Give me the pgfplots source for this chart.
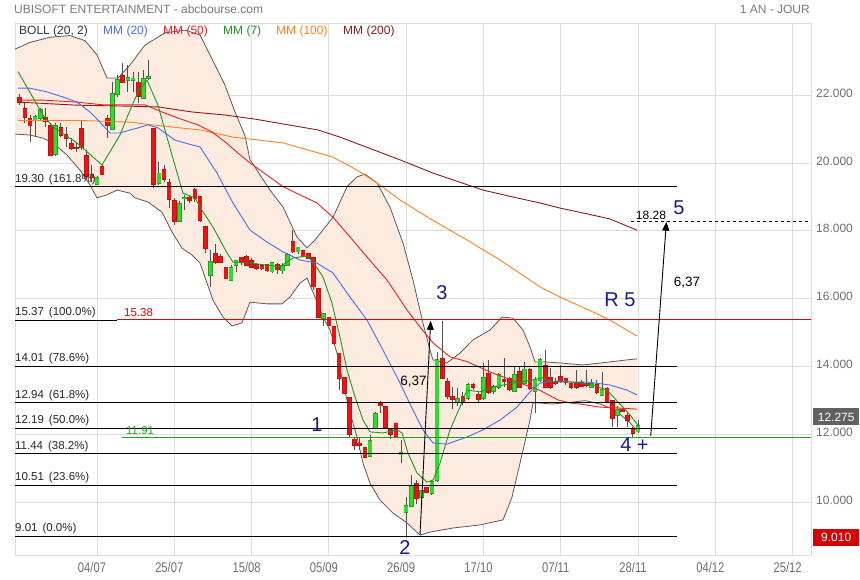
\documentclass[border=0pt]{standalone}
\usepackage{fontspec}
\setmainfont{Liberation Sans}
\newfontfamily\narrowfont[FakeStretch=0.8]{Liberation Sans}
\usepackage{pgfplots}
\usepackage{pgfplotstable}
\usepgfplotslibrary{fillbetween}
\usetikzlibrary{arrows.meta}
\pgfplotsset{compat=1.18}

\newcommand\fs[1]{\fontsize{#1}{#1}\selectfont}

\definecolor{gridc}{HTML}{DCDCDC}
\definecolor{tickc}{HTML}{6E6E6E}
\definecolor{titlec}{HTML}{7A7A7A}
\definecolor{bollfill}{HTML}{FDEBDF}
\definecolor{bandc}{HTML}{5A5A5A}
\definecolor{mmA}{HTML}{4A6CF7}
\definecolor{mmB}{HTML}{F02020}
\definecolor{mmC}{HTML}{1E961E}
\definecolor{mmD}{HTML}{FF8020}
\definecolor{mmE}{HTML}{8B1A1A}
\definecolor{upfill}{HTML}{2BE02B}
\definecolor{upline}{HTML}{2A9A2A}
\definecolor{dnfill}{HTML}{F01212}
\definecolor{dnline}{HTML}{B81515}
\definecolor{wickc}{HTML}{505050}
\definecolor{navy}{HTML}{1A1A8C}
\definecolor{lvred}{HTML}{E00000}
\definecolor{lvgreen}{HTML}{22A01A}

\pgfplotsset{
  candle/.style n args={2}{only marks, mark=*, mark size=0pt, mark options={draw=none, fill=none}, forget plot,
    error bars/.cd, y dir=both, y explicit, error mark=none,
    error bar style={draw=#1, line width=#2}},
}

% candles: d = trading day (0 = 04/07)
\pgfplotstableread{
d o h l c
-12 21.26 21.41 20.77 21.36
-11 21.33 21.61 21.26 21.56
-8 20.25 21.17 20.19 21.09
0 19.37 19.60 19.35 19.55
3 21.00 22.39 20.97 22.02
4 22.02 22.59 21.95 22.44
6 22.43 22.88 22.10 22.50
7 22.43 22.69 22.10 22.49
9 21.92 22.74 21.90 22.47
10 22.51 23.03 22.44 22.53
12 19.40 20.04 19.35 19.69
16 18.29 18.88 18.25 18.78
17 18.95 19.06 18.61 18.97
22 16.70 17.43 16.36 17.09
26 16.55 17.00 16.52 16.90
27 17.00 17.14 16.80 17.12
34 16.80 17.09 16.75 17.06
36 16.83 17.04 16.73 16.96
37 16.99 17.34 16.97 17.29
39 17.39 17.53 17.32 17.51
44 15.42 15.57 15.20 15.55
53 11.37 11.99 11.33 11.82
54 12.18 12.68 12.16 12.60
59 11.43 11.84 11.15 11.45
60 9.73 10.17 9.01 9.90
61 9.90 10.81 9.88 10.49
63 10.15 10.35 9.98 10.35
65 10.29 10.66 10.22 10.61
66 10.66 14.44 10.61 14.20
70 12.97 13.36 12.84 13.05
72 13.07 13.51 13.02 13.46
75 13.07 14.10 13.02 13.66
77 13.29 13.46 13.21 13.41
78 13.39 13.80 13.33 13.76
81 13.29 14.00 13.26 13.76
83 13.51 14.15 13.46 13.92
85 13.29 13.71 12.63 13.61
86 13.61 14.25 13.56 14.20
96 13.41 13.63 13.36 13.49
98 13.17 13.85 13.14 13.31
101 12.58 12.84 12.21 12.72
105 12.09 12.43 12.04 12.26
}\upc

\pgfplotstableread{
d o h l c
-15 21.92 22.02 21.71 21.78
-14 21.59 21.80 21.17 21.36
-13 21.31 21.41 20.61 21.10
-10 21.33 21.61 21.07 21.22
-9 21.09 21.17 20.19 20.24
-7 21.04 21.17 20.77 20.82
-6 20.82 21.07 20.48 20.74
-5 20.56 20.72 20.38 20.43
-4 20.44 20.63 20.33 20.42
-3 21.00 21.26 20.38 20.45
-2 20.20 20.38 19.55 19.60
-1 19.65 19.94 19.45 19.57
1 19.88 19.94 19.64 19.66
2 21.31 21.41 20.72 21.12
5 22.57 22.93 22.34 22.39
8 22.37 22.69 21.76 21.98
11 21.00 21.00 19.25 19.37
13 19.79 19.94 19.45 19.53
14 19.40 19.53 18.66 18.94
15 18.88 18.96 18.17 18.29
18 18.96 19.06 18.81 18.89
19 19.22 19.27 18.86 18.96
20 19.01 19.03 18.27 18.32
21 18.12 18.13 17.34 17.48
23 17.32 17.60 17.02 17.09
24 17.24 17.31 17.04 17.09
25 16.90 16.90 16.58 16.60
28 17.19 17.22 17.00 17.09
29 17.24 17.29 16.97 16.99
30 17.12 17.20 16.90 16.94
31 16.99 17.04 16.85 16.90
32 16.96 17.00 16.85 16.89
33 16.99 17.02 16.80 16.84
35 16.99 17.06 16.73 16.86
38 17.68 18.02 17.34 17.39
40 17.42 17.44 17.24 17.24
41 17.32 17.34 17.16 17.19
42 17.19 17.22 16.26 16.36
43 16.28 16.31 15.42 15.47
45 15.45 15.47 15.20 15.23
46 15.16 15.18 14.64 14.69
47 14.39 14.41 13.31 13.66
48 13.66 13.71 13.22 13.22
49 13.07 13.12 11.89 12.02
50 11.86 11.89 11.55 11.69
51 11.74 11.94 11.55 11.69
52 11.60 11.64 11.30 11.35
55 12.90 13.00 12.63 12.86
56 12.82 12.84 12.18 12.21
57 12.14 12.18 11.86 12.01
58 12.33 12.35 11.89 11.94
62 10.56 10.66 9.96 10.12
64 10.42 10.44 10.29 10.32
67 14.22 15.35 13.63 13.66
68 13.56 13.66 13.04 13.12
69 13.12 13.41 12.74 13.04
71 13.12 13.26 12.87 12.97
73 13.46 13.51 13.31 13.39
74 13.17 13.26 12.97 13.04
76 13.78 14.19 13.21 13.26
79 13.60 14.25 13.41 13.56
80 13.63 13.71 13.29 13.33
82 13.85 14.00 13.36 13.39
84 13.90 13.95 13.31 13.36
87 14.02 14.49 13.36 13.41
88 13.66 13.95 13.33 13.39
89 13.56 13.66 13.46 13.52
90 13.71 14.05 13.51 13.56
91 13.63 13.68 13.45 13.53
92 13.49 13.56 13.33 13.39
93 13.51 13.90 13.35 13.39
94 13.51 13.60 13.40 13.43
95 13.49 13.90 13.41 13.47
97 13.46 13.61 13.21 13.26
99 13.36 13.41 12.92 12.97
100 13.00 13.02 12.23 12.48
102 12.74 12.77 12.67 12.70
103 12.55 12.63 12.21 12.43
104 12.18 12.23 11.92 12.04
}\dnc

% Bollinger (20,2)
\pgfplotstableread{
d v
-15.91 23.35
-13.00 23.55
-9.12 23.70
-5.24 23.75
-2.33 23.60
0.00 23.18
1.94 22.50
4.08 22.50
6.40 22.88
9.32 23.47
13.20 23.83
17.08 23.91
19.99 23.77
21.93 23.18
24.84 22.29
26.78 21.50
28.72 20.80
29.69 20.10
33.57 19.20
36.10 18.70
38.81 17.82
40.75 17.50
42.31 17.73
45.80 18.40
48.52 19.30
50.46 19.59
52.01 19.67
54.34 19.41
56.86 18.70
59.38 17.64
61.32 16.55
63.26 15.29
64.62 14.49
65.21 14.20
67.92 14.11
70.44 14.40
72.97 14.79
76.27 15.08
78.60 15.46
80.73 15.43
82.67 15.08
84.03 14.58
85.00 14.14
86.94 14.14
89.85 14.11
94.31 14.05
99.55 14.14
102.85 14.20
104.79 14.23
}\bup

\pgfplotstableread{
d v
-15.91 20.85
-13.00 20.82
-10.48 20.73
-8.54 20.59
-5.82 20.23
-3.30 19.79
-1.36 19.35
0.00 18.97
1.94 19.06
3.88 19.20
6.40 19.11
7.37 18.97
9.90 18.85
12.61 18.55
14.55 17.97
16.50 17.49
18.44 17.29
19.99 17.05
22.51 15.96
24.45 15.46
26.20 15.20
28.14 15.29
29.69 15.90
32.99 15.85
35.90 15.85
37.45 16.05
39.39 16.46
40.75 16.61
42.31 16.05
43.86 15.46
45.22 15.08
46.57 14.40
47.74 13.52
49.10 12.64
50.46 11.93
51.62 11.16
52.98 10.57
54.92 10.07
57.44 9.69
60.16 9.40
62.68 9.04
64.62 9.13
69.09 9.25
74.33 9.34
78.79 9.49
80.54 10.16
82.09 11.16
84.03 12.43
84.61 12.93
85.97 12.93
88.30 12.90
91.79 12.95
94.70 13.00
97.61 12.90
99.55 12.78
101.49 12.60
103.44 12.35
104.79 12.11
}\blo

% MM (7)
\pgfplotstableread{
d v
-15.33 22.69
-10.48 21.41
-8.54 21.06
-3.88 20.59
0.97 19.94
4.46 20.82
6.02 21.41
7.96 22.09
9.70 22.44
11.84 21.70
14.55 20.23
16.69 19.11
19.02 18.97
19.99 18.70
22.51 18.11
25.23 17.35
26.39 17.08
29.69 17.05
32.99 16.99
35.51 16.94
38.04 17.20
40.75 17.26
41.92 17.08
43.86 16.64
45.60 15.87
47.16 14.87
48.52 13.90
50.07 13.11
51.62 12.43
52.98 12.08
55.50 12.05
58.22 12.14
59.19 12.05
60.35 11.46
62.10 10.87
64.04 10.60
65.21 10.66
66.56 11.16
68.50 12.14
70.44 12.81
71.80 13.31
74.33 13.26
76.85 13.40
80.73 13.52
84.61 13.61
86.36 13.67
88.30 13.55
91.79 13.55
93.73 13.52
96.25 13.46
98.97 13.31
101.11 12.96
103.44 12.58
104.99 12.28
}\mmseven

% MM (20)
\pgfplotstableread{
d v
-15.33 22.20
-13.00 22.20
-9.70 22.09
-6.60 21.94
-3.88 21.79
-1.36 21.50
0.58 21.20
2.52 20.88
4.46 20.88
6.40 20.97
7.96 21.03
9.90 21.12
11.84 21.03
15.14 20.67
18.44 20.53
19.99 20.47
23.29 19.70
26.39 18.82
29.69 18.02
32.99 17.67
36.10 17.38
39.39 17.14
42.69 17.05
45.80 16.76
49.10 16.05
52.40 15.37
55.50 14.49
58.80 13.52
61.32 12.72
63.26 12.14
65.21 11.75
67.92 11.72
71.80 11.93
74.91 12.14
78.21 12.43
81.51 12.81
84.03 13.26
85.97 13.52
87.33 13.55
89.46 13.58
91.79 13.55
95.09 13.55
99.55 13.46
102.85 13.31
104.79 13.17
}\mmtwenty

% MM (50)
\pgfplotstableread{
d v
-15.33 21.85
-10.48 21.85
-3.88 21.79
1.16 21.71
9.32 21.71
12.61 21.50
15.72 21.32
19.60 21.12
22.32 20.91
24.84 20.62
27.36 20.29
29.69 20.00
36.10 19.30
42.69 18.82
45.80 18.40
49.10 17.82
52.40 17.23
56.28 16.55
60.16 15.67
62.68 15.17
65.21 14.70
68.50 14.29
71.80 14.15
76.85 13.81
82.09 13.52
85.97 13.30
89.46 13.02
91.79 12.93
93.73 12.90
97.61 12.81
101.49 12.78
104.79 12.75
}\mmfifty

% MM (100)
\pgfplotstableread{
d v
-15.33 21.25
-3.30 21.25
6.40 21.20
10.67 21.12
19.99 20.97
26.39 20.76
36.10 20.59
45.80 20.17
50.46 19.79
54.34 19.41
58.80 18.91
64.04 18.41
71.80 17.73
78.21 17.14
85.97 16.35
89.85 16.05
96.25 15.61
99.55 15.37
104.79 14.90
}\mmhundred

% MM (200)
\pgfplotstableread{
d v
-15.33 21.79
-3.88 21.70
6.40 21.67
11.84 21.65
18.44 21.50
24.84 21.41
30.66 21.29
42.89 20.97
47.16 20.76
58.80 20.09
65.21 19.70
74.91 19.20
81.51 18.97
85.97 18.82
89.85 18.67
95.09 18.50
99.55 18.35
104.79 18.02
}\mmtwohundred

% marked levels 15.38 and 11.91
\pgfplotstableread{
d v
3.88 15.38
138.56 15.38
}\lvlred
\pgfplotstableread{
d v
4.85 11.91
138.56 11.91
}\lvlgreen

\begin{document}
\begin{tikzpicture}
\path (0pt,0pt) rectangle (860pt,580pt);
\begin{axis}[
    set layers,
    at={(15pt,25pt)}, anchor=south west,
    scale only axis, width=796pt, height=532pt,
    xmin=-15.91, xmax=138.56, ymin=8.455, ymax=24.12,
    axis line style={draw=gridc, line width=0.8pt},
    grid=major, grid style={draw=gridc, line width=0.8pt},
    tick style={draw=none},
    xtick={0,15,...,135},
    xticklabels={04/07,25/07,15/08,05/09,26/09,17/10,07/11,28/11,04/12,25/12},
    xticklabel style={font=\narrowfont\fs{14}, text=tickc, anchor=center, inner sep=0pt, yshift=-13pt, xshift=-5pt},
    ytick={10,12,...,22},
    yticklabels={10.000,12.000,14.000,16.000,18.000,20.000,22.000},
    yticklabel pos=right,
    yticklabel style={font=\fs{12}, text=tickc, anchor=west, inner sep=0pt, xshift=5pt, yshift=2pt},
    every axis plot/.append style={line join=round},
  ]

  % Bollinger fill
  \addplot[draw=none, name path=bu, forget plot] table[x=d, y=v] {\bup};
  \addplot[draw=none, name path=bl, forget plot] table[x=d, y=v] {\blo};
  \addplot[fill=bollfill, draw=none, on layer=axis background] fill between[of=bu and bl];
  \addplot[bandc, line width=0.8pt] table[x=d, y=v] {\bup};
  \addplot[bandc, line width=0.8pt] table[x=d, y=v] {\blo};

  % wicks
  \addplot[candle={wickc}{0.9pt}]
    table[x=d, y expr={(\thisrow{h}+\thisrow{l})/2}, y error expr={(\thisrow{h}-\thisrow{l})/2}] {\upc};
  \addplot[candle={wickc}{0.9pt}]
    table[x=d, y expr={(\thisrow{h}+\thisrow{l})/2}, y error expr={(\thisrow{h}-\thisrow{l})/2}] {\dnc};

  % bodies: outline then fill
  \addplot[candle={upline}{4.6pt}]
    table[x=d, y expr={(\thisrow{o}+\thisrow{c})/2}, y error expr={abs(\thisrow{c}-\thisrow{o})/2+0.025}] {\upc};
  \addplot[candle={upfill}{3.4pt}]
    table[x=d, y expr={(\thisrow{o}+\thisrow{c})/2}, y error expr={abs(\thisrow{c}-\thisrow{o})/2}] {\upc};
  \addplot[candle={dnline}{4.6pt}]
    table[x=d, y expr={(\thisrow{o}+\thisrow{c})/2}, y error expr={abs(\thisrow{c}-\thisrow{o})/2+0.025}] {\dnc};
  \addplot[candle={dnfill}{3.4pt}]
    table[x=d, y expr={(\thisrow{o}+\thisrow{c})/2}, y error expr={abs(\thisrow{c}-\thisrow{o})/2}] {\dnc};

  % moving averages
  \addplot[mmE, line width=0.9pt] table[x=d, y=v] {\mmtwohundred};
  \addplot[mmD, line width=0.9pt] table[x=d, y=v] {\mmhundred};
  \addplot[mmB, line width=0.9pt] table[x=d, y=v] {\mmfifty};
  \addplot[mmA, line width=0.9pt] table[x=d, y=v] {\mmtwenty};
  \addplot[mmC, line width=0.9pt] table[x=d, y=v] {\mmseven};

  % Fibonacci levels
  \addplot[black, line width=0.9pt] coordinates {(-15.91,19.30) (112.56,19.30)};
  \addplot[black, line width=0.9pt] coordinates {(-15.91,15.37) (3.88,15.37)};
  \addplot[black, line width=0.9pt] coordinates {(-15.91,14.01) (112.56,14.01)};
  \addplot[black, line width=0.9pt] coordinates {(-15.91,12.94) (112.56,12.94)};
  \addplot[black, line width=0.9pt] coordinates {(-15.91,12.19) (112.56,12.19)};
  \addplot[black, line width=0.9pt] coordinates {(-15.91,11.44) (112.56,11.44)};
  \addplot[black, line width=0.9pt] coordinates {(-15.91,10.51) (112.56,10.51)};
  \addplot[black, line width=0.9pt] coordinates {(-15.91,9.01) (112.56,9.01)};
  % marked levels, over the Fibonacci lines
  \addplot[lvred, line width=1.2pt] table[x=d, y=v] {\lvlred};
  \addplot[lvgreen, line width=1.2pt] table[x=d, y=v] {\lvlgreen};
  \addplot[black, line width=0.9pt, dashed] coordinates {(103.6,18.28) (138.56,18.28)};
  % projections
  \addplot[black, line width=0.9pt, -{Triangle[length=9pt,width=7pt]}] coordinates {(62.68,9.04) (64.76,15.35)};
  \addplot[black, line width=0.9pt, -{Triangle[length=9pt,width=7pt]}] coordinates {(107.45,11.96) (110.5,18.27)};
\end{axis}

% header
\node[anchor=west, inner sep=0pt, text=titlec, font=\fs{12}] at (14pt,571pt) {UBISOFT ENTERTAINMENT - abcbourse.com};
\node[anchor=east, inner sep=0pt, text=titlec, font=\fs{12}] at (810pt,571pt) {1 AN - JOUR};
% legend
\node[anchor=west, inner sep=0pt, text=black!80, font=\fs{12}] at (19pt,549pt) {BOLL (20, 2)};
\node[anchor=west, inner sep=0pt, text=mmA, font=\fs{12}] at (103pt,549pt) {MM (20)};
\node[anchor=west, inner sep=0pt, text=mmB, font=\fs{12}] at (163pt,549pt) {MM (50)};
\node[anchor=west, inner sep=0pt, text=mmC, font=\fs{12}] at (223pt,549pt) {MM (7)};
\node[anchor=west, inner sep=0pt, text=mmD, font=\fs{12}] at (276pt,549pt) {MM (100)};
\node[anchor=west, inner sep=0pt, text=mmE, font=\fs{12}] at (343pt,549pt) {MM (200)};
% level labels
\begin{scope}[every node/.style={anchor=south west, inner sep=0pt, font=\fs{11.5}, text=black!85}]
\node at (15pt,395pt) {19.30\hspace{5pt}(161.8\%)};
\node at (15pt,261.5pt) {15.37\hspace{5pt}(100.0\%)};
\node at (15pt,215.5pt) {14.01\hspace{5pt}(78.6\%)};
\node at (15pt,179pt) {12.94\hspace{5pt}(61.8\%)};
\node at (15pt,153.5pt) {12.19\hspace{5pt}(50.0\%)};
\node at (15pt,128pt) {11.44\hspace{5pt}(38.2\%)};
\node at (15pt,96.5pt) {10.51\hspace{5pt}(23.6\%)};
\node at (15pt,45.5pt) {9.01\hspace{5pt}(0.0\%)};
\node[text=lvred] at (124pt,263pt) {15.38};
\node[text=lvgreen] at (126pt,145pt) {11.91};
\end{scope}
% annotations
\begin{scope}[every node/.style={inner sep=0pt, font=\fs{20}, text=navy}]
\node at (317pt,155pt) {1};
\node at (405pt,32pt) {2};
\node at (442pt,287pt) {3};
\node at (634.5pt,135pt) {4 +};
\node at (679pt,372pt) {5};
\node at (620pt,280pt) {R 5};
\end{scope}
\node[inner sep=0pt, font=\fs{13.5}] at (413.5pt,198pt) {6,37};
\node[inner sep=0pt, font=\fs{13.5}] at (687pt,297pt) {6,37};
\node[inner sep=0pt, font=\fs{12}] at (651pt,365pt) {18.28};
% price boxes
\node[fill=black!62, text=white, font=\fs{12}, inner sep=0pt, minimum width=46pt, minimum height=17pt, anchor=west] at (813pt,163pt) {12.275};
\node[fill=lvred!95!black, text=white, font=\fs{12}, inner sep=0pt, minimum width=46pt, minimum height=17pt, anchor=west] at (813pt,42.5pt) {9.010};
\end{tikzpicture}
\end{document}
